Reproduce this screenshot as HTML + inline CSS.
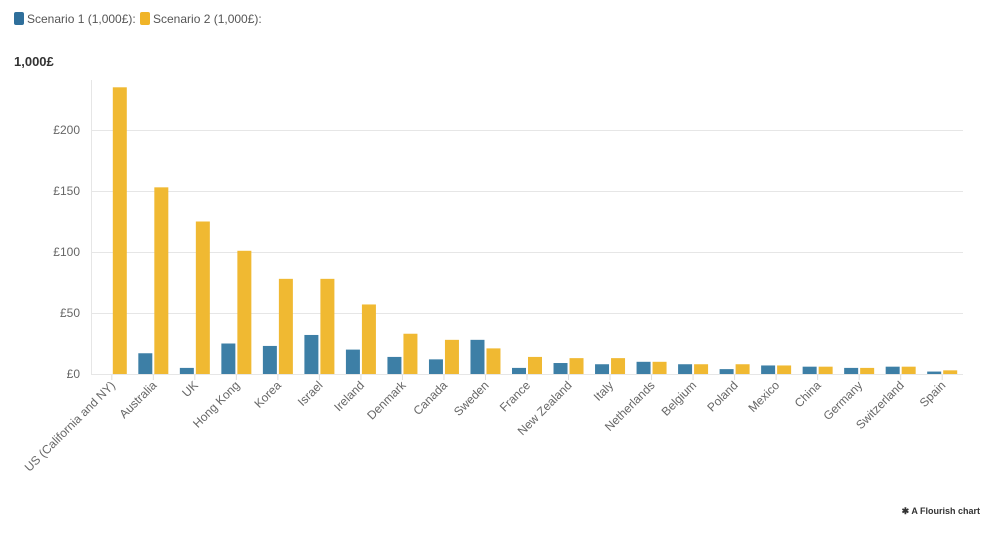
<!DOCTYPE html>
<html><head><meta charset="utf-8"><style>
body{margin:0;background:#fff;font-family:"Liberation Sans",sans-serif;}
</style></head><body>
<svg width="1000" height="528" xmlns="http://www.w3.org/2000/svg" font-family="Liberation Sans, sans-serif">
<rect x="14" y="12" width="10" height="13" rx="2" fill="#2f6f9b"/>
<text x="27" y="23" font-size="12" fill="#555">Scenario 1 (1,000£):</text>
<rect x="140" y="12" width="10" height="13" rx="2" fill="#f0b428"/>
<text x="153" y="23" font-size="12" fill="#555">Scenario 2 (1,000£):</text>
<text x="14" y="66" font-size="13" font-weight="bold" fill="#333">1,000£</text>
<g stroke="#e6e6e6" stroke-width="1">
<line x1="91" y1="130.5" x2="963" y2="130.5"/>
<line x1="91" y1="191.5" x2="963" y2="191.5"/>
<line x1="91" y1="252.5" x2="963" y2="252.5"/>
<line x1="91" y1="313.5" x2="963" y2="313.5"/>
<line x1="91" y1="374.5" x2="963" y2="374.5"/>
<line x1="91.5" y1="80" x2="91.5" y2="374"/>
</g>
<g font-size="12" fill="#666" text-anchor="end">
<text x="80" y="134">£200</text><text x="80" y="195">£150</text><text x="80" y="256">£100</text><text x="80" y="317">£50</text><text x="80" y="378">£0</text>
</g>
<g id="bars"></g>
<g id="labels" font-size="12" fill="#666" text-anchor="end"></g>
<text x="980" y="514" font-size="9" font-weight="bold" fill="#333" text-anchor="end">✱ A Flourish chart</text>
<script>
var d=[["US (California and NY)",0,235],["Australia",17,153],["UK",5,125],["Hong Kong",25,101],["Korea",23,78],["Israel",32,78],["Ireland",20,57],["Denmark",14,33],["Canada",12,28],["Sweden",28,21],["France",5,14],["New Zealand",9,13],["Italy",8,13],["Netherlands",10,10],["Belgium",8,8],["Poland",4,8],["Mexico",7,7],["China",6,6],["Germany",5,5],["Switzerland",6,6],["Spain",2,3]];
var ns="http://www.w3.org/2000/svg",b=document.getElementById("bars"),l=document.getElementById("labels");
d.forEach(function(r,i){var c=111.8+41.52*i;
[[r[1],c-15,"#3d7fa6"],[r[2],c+1,"#f0b932"]].forEach(function(s){if(!s[0])return;var h=s[0]*1.22;var e=document.createElementNS(ns,"rect");e.setAttribute("x",s[1]);e.setAttribute("y",374-h);e.setAttribute("width",14);e.setAttribute("height",h);e.setAttribute("fill",s[2]);b.appendChild(e);});
var t=document.createElementNS(ns,"line");t.setAttribute("x1",c);t.setAttribute("x2",c);t.setAttribute("y1",375);t.setAttribute("y2",380);t.setAttribute("stroke","#ddd");b.appendChild(t);
var x=document.createElementNS(ns,"text");x.setAttribute("transform","translate("+(c+4)+",386) rotate(-45)");x.textContent=r[0];l.appendChild(x);});
</script>
</svg>
</body></html>
